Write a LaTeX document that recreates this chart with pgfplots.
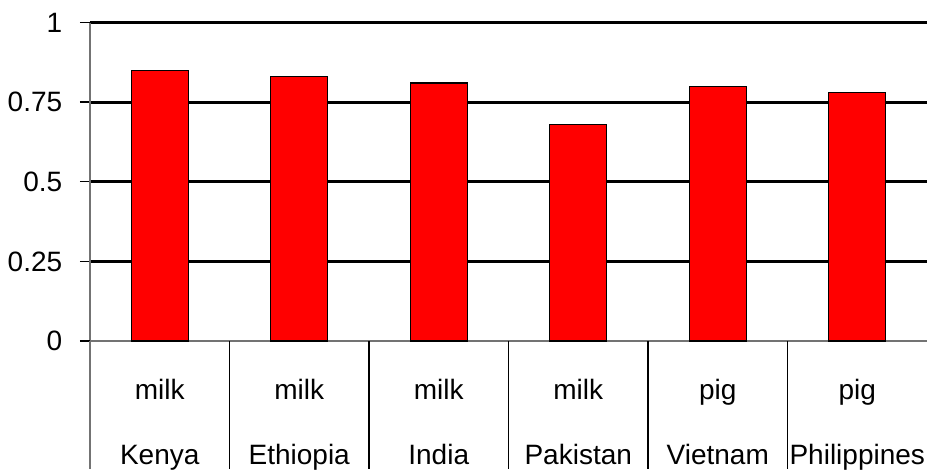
\documentclass[border=0pt]{standalone}
\usepackage{pgfplots}
\pgfplotsset{compat=1.18}
\usepackage{fontspec}
\setmainfont{Liberation Sans}
\begin{document}
\fontsize{14}{16.5}\selectfont
\begin{tikzpicture}
\begin{axis}[
  scale only axis,
  width=418.5pt, height=159.25pt,
  xmin=-0.5, xmax=5.5, ymin=0, ymax=1,
  ybar, bar width=28.5pt,
  axis x line*=bottom, axis y line*=left,
  axis line style={draw=black!55, line width=0.6pt, -},
  xtick={0,1,2,3,4,5},
  xticklabels={{milk\\[16pt]Kenya},{milk\\[16pt]Ethiopia},{milk\\[16pt]India},
               {milk\\[16pt]Pakistan},{pig\\[16pt]Vietnam},{pig\\[16pt]Philippines}},
  xticklabel style={align=center, yshift=-9pt},
  xtick style={draw=none},
  ytick={0.25,0.5,0.75,1},
  yticklabels={0.25,0.5,0.75,1},
  extra y ticks={0}, extra y tick labels={0},
  extra y tick style={grid=none},
  ymajorgrids,
  major grid style={black, line width=1.4pt},
  ytick style={black, line width=0.7pt},
  tick align=outside, major tick length=5pt,
  yticklabel style={xshift=-4pt},
  clip=false,
]
  \addplot[fill=red, draw=black, line width=0.7pt]
    coordinates {(0,0.85) (1,0.83) (2,0.81) (3,0.68) (4,0.80) (5,0.78)};
  % category separators below the axis
  \pgfplotsinvokeforeach{0.5,1.5,2.5,3.5,4.5}{
    \draw[black, line width=0.6pt] (axis cs:#1,0) -- ([yshift=-64pt]axis cs:#1,0);
  }
  \draw[black!55, line width=0.6pt] (axis cs:-0.5,0) -- ([yshift=-64pt]axis cs:-0.5,0);
  \coordinate (bl) at (axis description cs:-0.1075,-0.4019);
  \coordinate (tr) at (axis description cs:1.0,1.0707);
\end{axis}
\pgfresetboundingbox
\path (bl) rectangle (tr);
\end{tikzpicture}
\end{document}
